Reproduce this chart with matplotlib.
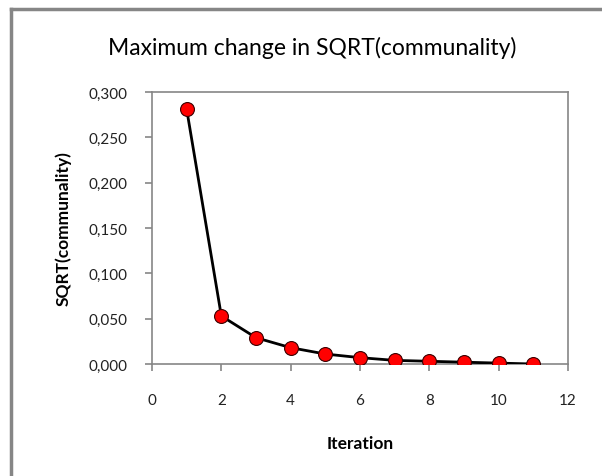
import matplotlib
matplotlib.use("Agg")
import matplotlib.pyplot as plt
from matplotlib.ticker import FuncFormatter, MultipleLocator
from matplotlib.lines import Line2D

# maximum change in sqrt(communality) per iteration
iteracoes = [1, 2, 3, 4, 5, 6, 7, 8, 9, 10, 11]
variacao = [0.281, 0.053, 0.029, 0.018, 0.011, 0.007, 0.004, 0.003, 0.002, 0.001, 0.000]

plt.rcParams['font.family'] = ['Lato', 'DejaVu Sans']

fig = plt.figure(figsize=(6.02, 4.77), dpi=100)
ax = fig.add_axes([0.2525, 0.2348, 0.691, 0.5702])

ax.plot(iteracoes, variacao, color='black', linewidth=2.0,
        marker='o', markersize=10, markerfacecolor='#ff0000',
        markeredgecolor='#3a0000', markeredgewidth=0.8, zorder=3)

ax.set_xlim(0, 12)
ax.set_ylim(0, 0.3)
ax.xaxis.set_major_locator(MultipleLocator(2))
ax.yaxis.set_major_locator(MultipleLocator(0.05))
ax.yaxis.set_major_formatter(FuncFormatter(lambda v, p: f"{v:.3f}".replace('.', ',')))

cinza = '#868686'
for lado in ax.spines.values():
    lado.set_color(cinza)
    lado.set_linewidth(1.2)
ax.tick_params(axis='both', direction='out', length=5, width=1.2, color=cinza,
               labelsize=11, labelcolor='#222222')
ax.tick_params(axis='y', pad=13)
ax.tick_params(axis='x', pad=16)

ax.set_xlabel('Iteration', fontsize=12.5, fontweight='bold', labelpad=20)
ax.set_ylabel('SQRT(communality)', fontsize=12.5, fontweight='bold', labelpad=12)
fig.text(0.518, 0.90, 'Maximum change in SQRT(communality)', fontsize=16.5,
         ha='center', va='center', color='black')

# chart area border (left and top edges)
fig.add_artist(Line2D([0.018, 0.018], [0.0, 0.979], transform=fig.transFigure,
                      color=cinza, linewidth=2.5))
fig.add_artist(Line2D([0.018, 1.0], [0.979, 0.979], transform=fig.transFigure,
                      color=cinza, linewidth=2.5))

fig.savefig('out.png', dpi=100)
